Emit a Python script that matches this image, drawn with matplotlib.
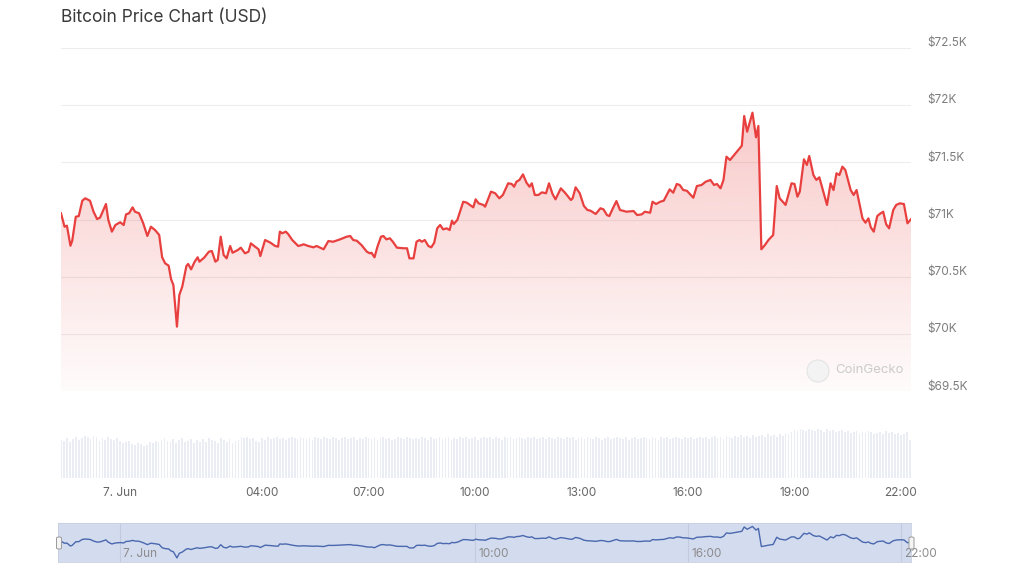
import matplotlib
matplotlib.use("Agg")
import matplotlib.pyplot as plt
import matplotlib.transforms as mtransforms
import numpy as np
from matplotlib.colors import to_rgb
from matplotlib.patches import Ellipse, FancyBboxPatch

plt.rcParams['font.family'] = ['Inter', 'DejaVu Sans']

# minutes from 7 Jun 00:00, BTC price in USD
minutes = [-100, -94, -90, -84, -81, -75, -70, -64, -59, -51, -45, -39, -34, -24, -20, -14, -8,
           0, 6, 10, 15, 21, 25, 32, 39, 46, 52, 59, 66, 71, 76, 82, 86, 90, 96, 100, 105,
           112, 115, 120, 126, 131, 134, 142, 150, 155, 161, 165, 170, 175, 180, 186, 190,
           199, 204, 211, 217, 221, 228, 234, 237, 245, 254, 262, 267, 270, 274, 280, 284,
           291, 301, 307, 310, 318, 327, 332, 344, 352, 360, 372, 383, 389, 394, 400, 408,
           417, 422, 425, 430, 435, 441, 445, 450, 456, 461, 468, 479, 485, 489, 496, 501,
           506, 510, 515, 521, 526, 531, 536, 541, 546, 552, 557, 561, 564, 570, 580, 586,
           594, 597, 601, 606, 614, 617, 627, 634, 641, 647, 656, 662, 666, 670, 675, 681,
           687, 692, 696, 701, 707, 713, 720, 725, 731, 736, 745, 752, 762, 765, 770, 775,
           777, 784, 790, 795, 804, 812, 817, 823, 827, 833, 839, 845, 856, 868, 874, 882,
           887, 896, 900, 906, 913, 919, 929, 935, 941, 946, 952, 958, 969, 975, 983, 990,
           998, 1004, 1009, 1015, 1020, 1025, 1031, 1038, 1045, 1051, 1055, 1060, 1069, 1075,
           1079, 1084, 1090, 1096, 1104, 1110, 1115, 1125, 1135, 1140, 1145, 1149, 1156, 1161,
           1165, 1172, 1177, 1182, 1195, 1201, 1206, 1211, 1216, 1221, 1226, 1235, 1240, 1245,
           1255, 1260, 1265, 1269, 1274, 1280, 1284, 1290, 1295, 1300, 1307, 1312, 1318, 1325,
           1331, 1337]
price = [71054, 70937, 70946, 70771, 70815, 71024, 71030, 71164, 71185, 71164, 71068, 71004,
         71016, 71135, 70996, 70894, 70952, 70976, 70952, 71045, 71054, 71106, 71068, 71054,
         70967, 70856, 70937, 70908, 70865, 70670, 70618, 70597, 70481, 70428, 70065, 70341,
         70414, 70594, 70612, 70565, 70632, 70670, 70632, 70667, 70719, 70725, 70632, 70647,
         70850, 70690, 70661, 70769, 70710, 70734, 70754, 70705, 70719, 70792, 70763, 70740,
         70681, 70821, 70798, 70769, 70763, 70894, 70880, 70894, 70873, 70821, 70769, 70777,
         70784, 70769, 70757, 70769, 70740, 70812, 70806, 70827, 70850, 70856, 70821, 70815,
         70777, 70719, 70705, 70710, 70670, 70763, 70850, 70856, 70827, 70836, 70806, 70754,
         70749, 70749, 70661, 70661, 70806, 70821, 70806, 70821, 70769, 70757, 70798, 70923,
         70952, 70914, 70923, 70908, 70990, 70961, 70996, 71155, 71147, 71118, 71106, 71176,
         71141, 71127, 71112, 71243, 71229, 71185, 71214, 71316, 71310, 71286, 71330, 71345,
         71394, 71321, 71286, 71316, 71214, 71214, 71237, 71229, 71316, 71222, 71176, 71272,
         71234, 71170, 71185, 71281, 71243, 71229, 71118, 71083, 71077, 71048, 71098, 71089,
         71039, 71030, 71098, 71161, 71083, 71068, 71074, 71039, 71045, 71068, 71059, 71155,
         71135, 71155, 71164, 71263, 71234, 71310, 71301, 71257, 71251, 71190, 71292, 71301,
         71330, 71345, 71301, 71310, 71272, 71345, 71548, 71519, 71563, 71606, 71644, 71903,
         71766, 71932, 71717, 71816, 70740, 70777, 70821, 70865, 71292, 71185, 71127, 71316,
         71310, 71199, 71243, 71525, 71476, 71554, 71388, 71345, 71368, 71127, 71316, 71257,
         71403, 71388, 71461, 71432, 71257, 71214, 71257, 71010, 70972, 71010, 70932, 70894,
         71030, 71048, 71068, 70958, 70923, 71083, 71127, 71141, 71135, 70967, 71002]

# 5-minute volume bars (relative height), first bar at minute -100
vol_start, vol_step = -100, 5
volume = [38, 37, 40, 36, 39, 41, 38, 40, 42, 41, 39, 42, 41, 37, 40, 38, 41, 39, 38, 40, 37, 35, 36, 37,
          34, 33, 35, 34, 32, 33, 36, 35, 37, 36, 38, 40, 37, 36, 39, 35, 38, 40, 36, 37, 39, 35, 38, 36,
          39, 36, 40, 38, 37, 35, 40, 38, 36, 39, 35, 37, 38, 41, 40, 41, 39, 40, 37, 36, 40, 38, 41, 39,
          40, 41, 39, 40, 38, 40, 41, 40, 39, 41, 40, 39, 40, 38, 41, 40, 39, 41, 40, 39, 41, 40, 38, 40,
          41, 39, 40, 41, 38, 40, 39, 41, 40, 39, 41, 38, 40, 41, 39, 40, 38, 39, 41, 40, 39, 41, 40, 39,
          40, 39, 41, 40, 38, 41, 39, 40, 41, 39, 40, 41, 38, 40, 39, 41, 40, 41, 39, 40, 41, 38, 40, 41,
          40, 41, 39, 41, 40, 38, 41, 40, 41, 39, 40, 41, 40, 39, 41, 40, 41, 39, 40, 41, 39, 41, 40, 39,
          41, 40, 39, 41, 40, 41, 38, 40, 41, 39, 41, 40, 39, 41, 40, 38, 40, 41, 39, 40, 41, 40, 39, 41,
          38, 40, 41, 39, 40, 41, 40, 39, 41, 40, 38, 41, 40, 41, 39, 40, 41, 40, 39, 41, 40, 41, 39, 40,
          41, 40, 41, 39, 41, 42, 40, 41, 39, 42, 41, 40, 42, 41, 43, 41, 42, 40, 43, 41, 42, 43, 41, 44,
          42, 43, 41, 44, 42, 45, 44, 46, 48, 47, 49, 48, 47, 49, 48, 47, 49, 48, 46, 49, 47, 48, 46, 47,
          48, 46, 47, 45, 46, 47, 44, 46, 45, 47, 46, 44, 45, 46, 44, 47, 45, 46, 44, 45, 43, 44, 46, 38]

tick_pos = [0, 240, 420, 600, 780, 960, 1140, 1320]
tick_lab = ['7. Jun', '04:00', '07:00', '10:00', '13:00', '16:00', '19:00', '22:00']
nav_tick_pos = [0, 600, 960, 1320]
nav_tick_lab = ['7. Jun', '10:00', '16:00', '22:00']
y_ticks = [69500, 70000, 70500, 71000, 71500, 72000, 72500]
y_labs = ['$69.5K', '$70K', '$70.5K', '$71K', '$71.5K', '$72K', '$72.5K']

W, H = 1024, 576
fig = plt.figure(figsize=(W / 100, H / 100), dpi=100)


def px_axes(x0, y0, x1, y1):
    return fig.add_axes([x0 / W, 1 - y1 / H, (x1 - x0) / W, (y1 - y0) / H])


t0, t1 = minutes[0], minutes[-1]
red = '#e8403f'

# main price chart
ax = px_axes(61, 47.6, 911, 391.4)
for v in y_ticks:
    ax.axhline(v, color='#ededed', lw=0.8, zorder=0)
grad = np.zeros((256, 1, 4))
grad[..., :3] = to_rgb(red)
grad[..., 3] = np.linspace(0.34, 0.02, 256)[:, None]
im = ax.imshow(grad, aspect='auto', extent=[t0, t1, 69500, 72500], origin='upper', zorder=1)
poly = ax.fill_between(minutes, price, 69500, color='none', lw=0)
im.set_clip_path(poly.get_paths()[0], transform=ax.transData)
ax.plot(minutes, price, color=red, lw=1.6, zorder=3, solid_joinstyle='round')
ax.set_xlim(t0, t1)
ax.set_ylim(69500, 72500)
ax.axis('off')

ylab_tr = mtransforms.blended_transform_factory(ax.transAxes, ax.transData)
for v, lab in zip(y_ticks, y_labs):
    ax.text(1 + 16 / 850, v - 12, lab, transform=ylab_tr, ha='left', va='bottom',
            fontsize=8.5, color='#7d7d7d')

fig.text(61 / W, 1 - 17 / H, 'Bitcoin Price Chart (USD)', ha='left', va='center',
         fontsize=12.5, color='#3a3a3a')

# watermark
fig.patches.append(Ellipse((818 / W, 1 - 371 / H), 22 / W, 22 / H, transform=fig.transFigure,
                           facecolor='#f3f3f3', edgecolor='#e4e4e4', lw=0.8, zorder=5))
fig.text(835 / W, 1 - 370 / H, 'CoinGecko', ha='left', va='center', fontsize=9.5,
         color='#cbcbcb', zorder=6)

# volume
axv = px_axes(61, 427, 911, 478)
vol_t = vol_start + vol_step * np.arange(len(volume))
axv.bar(vol_t, volume, width=3.0, color='#eaedf4', align='center', lw=0, antialiased=False)
axv.set_xlim(t0, t1)
axv.set_ylim(0, 51)
for s in axv.spines.values():
    s.set_visible(False)
axv.set_yticks([])
axv.set_xticks(tick_pos)
axv.set_xticklabels(tick_lab)
axv.tick_params(axis='x', length=0, pad=6.5, labelsize=8.5, labelcolor='#666666')

# navigator
px_per_min = 850 / (t1 - t0)
axn = px_axes(58, 523, 911, 562)
axn.set_facecolor('#d3dbee')
for v in nav_tick_pos:
    axn.axvline(v, color='#c3cadf', lw=0.8, zorder=1)
axn.plot(minutes, price, color='#4a68ae', lw=1.0, zorder=2)
axn.set_xlim(t0 - 3 / px_per_min, t1)
pmin, pmax = min(price), max(price)
axn.set_ylim(pmin - 4 / 31 * (pmax - pmin), pmax + 3.4 / 31 * (pmax - pmin))
axn.set_xticks([])
axn.set_yticks([])
for s in axn.spines.values():
    s.set_color('#c9cfdf')
    s.set_linewidth(0.6)
nav_tr = mtransforms.offset_copy(
    mtransforms.blended_transform_factory(axn.transData, axn.transAxes), fig=fig, x=3, y=0,
    units='dots')
for v, lab in zip(nav_tick_pos, nav_tick_lab):
    axn.text(v, 0.2, lab, transform=nav_tr, ha='left', va='center', fontsize=8.5,
             color='#8c8c8c', clip_on=False)

for cx in (59, 911.5):
    fig.patches.append(FancyBboxPatch(((cx - 2.5) / W, 1 - 549 / H), 5 / W, 12 / H,
                                      boxstyle='round,pad=0,rounding_size=0.002',
                                      transform=fig.transFigure, facecolor='#f4f4f4',
                                      edgecolor='#9a9a9a', lw=0.7, zorder=10))

fig.savefig('out.png', dpi=100)
